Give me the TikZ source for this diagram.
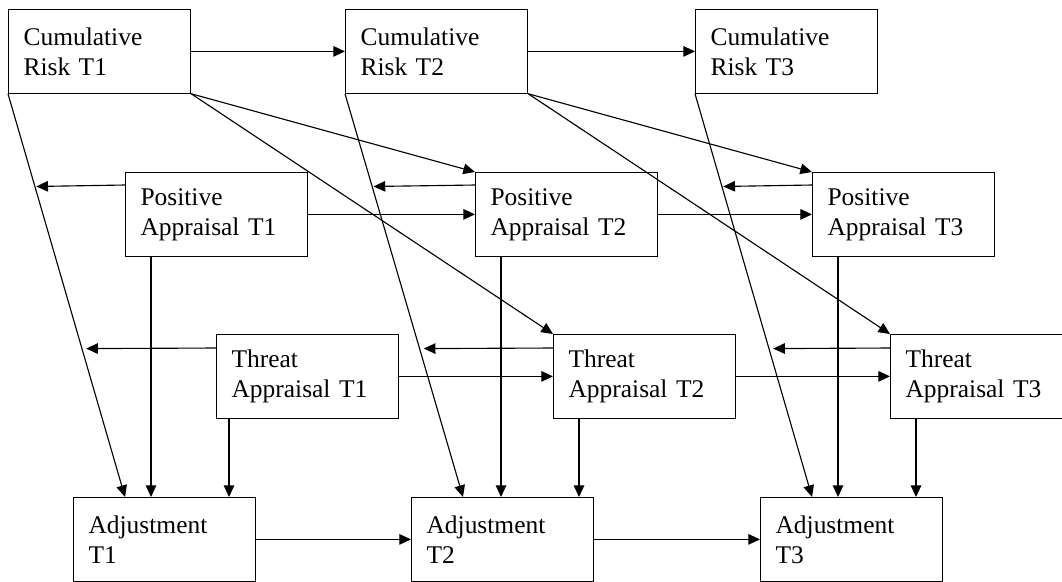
\documentclass[tikz,border=0pt]{standalone}
\usepackage{fontspec}
\setmainfont{Liberation Serif}
\usetikzlibrary{arrows.meta,calc}

\tikzset{
  varbox/.style={draw, line width=0.8pt, anchor=north west,
    minimum width=4.55cm, minimum height=2.09cm, text width=3.8cm,
    inner xsep=0.375cm, inner ysep=0pt, align=left,
    font=\fontsize{18.1pt}{21.4pt}\selectfont},
  conn/.style={->, line width=0.8pt}
}

\begin{document}
\begin{tikzpicture}[x=0.025cm, y=-0.025cm, >={Triangle[length=8.3pt,width=7.5pt]}]
    \useasboundingbox (0,0) rectangle (1062,581);

    % Variables at the three time points
    \foreach \t/\xr/\xp/\xq/\xa in {1/8/125/216/73, 2/345/475/553/411, 3/695/812/890/760} {
        \node[varbox] (cr\t) at (\xr,9) {Cumulative\\Risk T\t};
        \node[varbox] (pa\t) at (\xp,172) {Positive\\Appraisal T\t};
        \node[varbox] (ta\t) at (\xq,334) {Threat\\Appraisal T\t};
        \node[varbox] (adj\t) at (\xa,497) {Adjustment\\T\t};
    }

    % Paths inside one time point
    \foreach \t/\dq in {1/0.325cm, 2/0.65cm, 3/0.65cm} {
        \coordinate (ad\t) at ([xshift=1.3cm]adj\t.north west);
        \draw[conn] (cr\t.south west) -- (ad\t);
        % appraisals pointing at the risk path
        \coordinate (mp\t) at ($(cr\t.south west)!0.23!(ad\t)$);
        \coordinate (mt\t) at ($(cr\t.south west)!0.632!(ad\t)$);
        \draw[conn, shorten >=1pt] ([yshift=-0.325cm]pa\t.north west) -- (mp\t);
        \draw[conn, shorten >=3pt] ([yshift=-0.35cm]ta\t.north west) -- (mt\t);
        % appraisals down to adjustment
        \coordinate (pd\t) at ([xshift=0.65cm]pa\t.south west);
        \coordinate (td\t) at ([xshift=\dq]ta\t.south west);
        \draw[conn] (pd\t) -- (pd\t |- adj\t.north);
        \draw[conn] (td\t) -- (td\t |- adj\t.north);
    }

    % Paths from one time point to the next
    \foreach \t/\n in {1/2, 2/3} {
        \draw[conn] (cr\t) -- (cr\n);
        \draw[conn] (pa\t) -- (pa\n);
        \draw[conn] (ta\t) -- (ta\n);
        \draw[conn] (adj\t) -- (adj\n);
        \draw[conn] (cr\t.south east) -- (pa\n.north west);
        \draw[conn] (cr\t.south east) -- (ta\n.north west);
    }
\end{tikzpicture}
\end{document}
